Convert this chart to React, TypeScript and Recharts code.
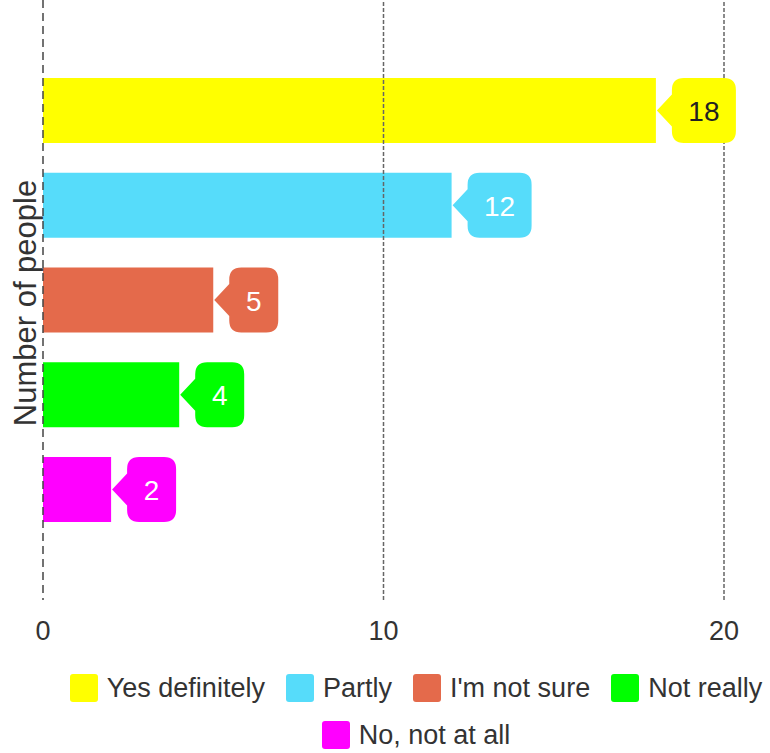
import React from 'react';
import { BarChart, Bar, XAxis, YAxis, ReferenceLine, LabelList } from 'recharts';

const categories = ['Yes definitely', 'Partly', "I'm not sure", 'Not really', 'No, not at all'];
const counts = [18, 12, 5, 4, 2];
const colors = ['#FFFF00', '#56DCFA', '#E46A4B', '#00FF00', '#FF00FF'];
const labelColors = ['#222222', '#FFFFFF', '#FFFFFF', '#FFFFFF', '#FFFFFF'];
const xTicks = [0, 10, 20];
const gridValues = [10, 20];
const axisTitle = 'Number of people';
const groupName = 'Responses';

const FONT = '"Liberation Sans", Arial, sans-serif';

const seriesKeys = categories.map((_, i) => `s${i}`);
const data = [
  seriesKeys.reduce((row: any, k, i) => {
    row[k] = counts[i];
    return row;
  }, { name: groupName } as any),
];

const makeCallout = (idx: number) => (props: any) => {
  const vb = props.viewBox || {};
  const x = vb.x ?? props.x;
  const y = vb.y ?? props.y;
  const w = vb.width ?? props.width;
  const h = vb.height ?? props.height;
  const value = props.value;
  if (x == null || y == null) return null;
  const tipX = x + w + 1;
  const cy = y + h / 2;
  const bx = x + w + 16;
  const digits = String(value).length;
  const bw = 34 + 15 * digits;
  const top = y;
  const bot = y + h;
  const r = 12;
  const ph = 16;
  const d = [
    `M ${bx + r} ${top}`,
    `H ${bx + bw - r}`,
    `Q ${bx + bw} ${top} ${bx + bw} ${top + r}`,
    `V ${bot - r}`,
    `Q ${bx + bw} ${bot} ${bx + bw - r} ${bot}`,
    `H ${bx + r}`,
    `Q ${bx} ${bot} ${bx} ${bot - r}`,
    `V ${cy + ph}`,
    `L ${tipX} ${cy}`,
    `L ${bx} ${cy - ph}`,
    `V ${top + r}`,
    `Q ${bx} ${top} ${bx + r} ${top}`,
    'Z',
  ].join(' ');
  return (
    <g>
      <path d={d} fill={colors[idx]} />
      <text
        x={bx + bw / 2}
        y={cy + 1}
        textAnchor="middle"
        dominantBaseline="central"
        fontSize={28}
        fontFamily={FONT}
        fill={labelColors[idx]}
      >
        {value}
      </text>
    </g>
  );
};

const YTitle = (props: any) => {
  const vb = props.viewBox || { x: 0, y: 0, width: 43, height: 600 };
  const cx = vb.x + 25;
  const cy = vb.y + vb.height / 2 + 3;
  return (
    <text
      x={cx}
      y={cy}
      transform={`rotate(-90, ${cx}, ${cy})`}
      textAnchor="middle"
      dominantBaseline="central"
      fontSize={31}
      fontFamily={FONT}
      fill="#333333"
    >
      {axisTitle}
    </text>
  );
};

const LegendBlock = () => (
  <div
    style={{
      position: 'absolute',
      left: 51,
      top: 674,
      width: 730,
      display: 'flex',
      flexWrap: 'wrap',
      justifyContent: 'center',
      fontFamily: FONT,
      fontSize: 27,
      color: '#333333',
    }}
  >
    {categories.map((c, i) => (
      <div
        key={c}
        style={{ display: 'flex', alignItems: 'center', height: 28, margin: '0 10.5px 19px 10.5px' }}
      >
        <div style={{ width: 28, height: 28, background: colors[i], borderRadius: 3 }} />
        <span style={{ marginLeft: 9, lineHeight: '28px', whiteSpace: 'nowrap' }}>{c}</span>
      </div>
    ))}
  </div>
);

export default function App() {
  return (
    <div style={{ position: 'absolute', left: 0, top: 0, width: 770, height: 753, background: '#fff', overflow: 'hidden' }}>
      <BarChart
        width={770}
        height={660}
        data={data}
        layout="vertical"
        margin={{ top: 0, right: 46, bottom: 0, left: 0 }}
        barSize={65}
        barGap={29.75}
      >
        <XAxis
          type="number"
          domain={[0, 20]}
          ticks={xTicks}
          axisLine={false}
          tickLine={false}
          tickMargin={15}
          height={60}
          tick={{ fontSize: 27, fill: '#333333', fontFamily: FONT }}
        />
        <YAxis
          type="category"
          dataKey="name"
          width={43}
          tick={false}
          tickLine={false}
          axisLine={{ stroke: '#444444', strokeDasharray: '8 5', strokeWidth: 1.5 }}
          label={{ value: axisTitle, content: YTitle }}
        />
        {gridValues.map((v) => (
          <ReferenceLine key={v} x={v} stroke="#666666" strokeWidth={1.5} strokeDasharray="4 2" />
        ))}
        {seriesKeys.map((k, i) => (
          <Bar key={k} dataKey={k} name={categories[i]} fill={colors[i]} isAnimationActive={false}>
            <LabelList dataKey={k} content={makeCallout(i)} />
          </Bar>
        ))}
      </BarChart>
      <LegendBlock />
    </div>
  );
}
